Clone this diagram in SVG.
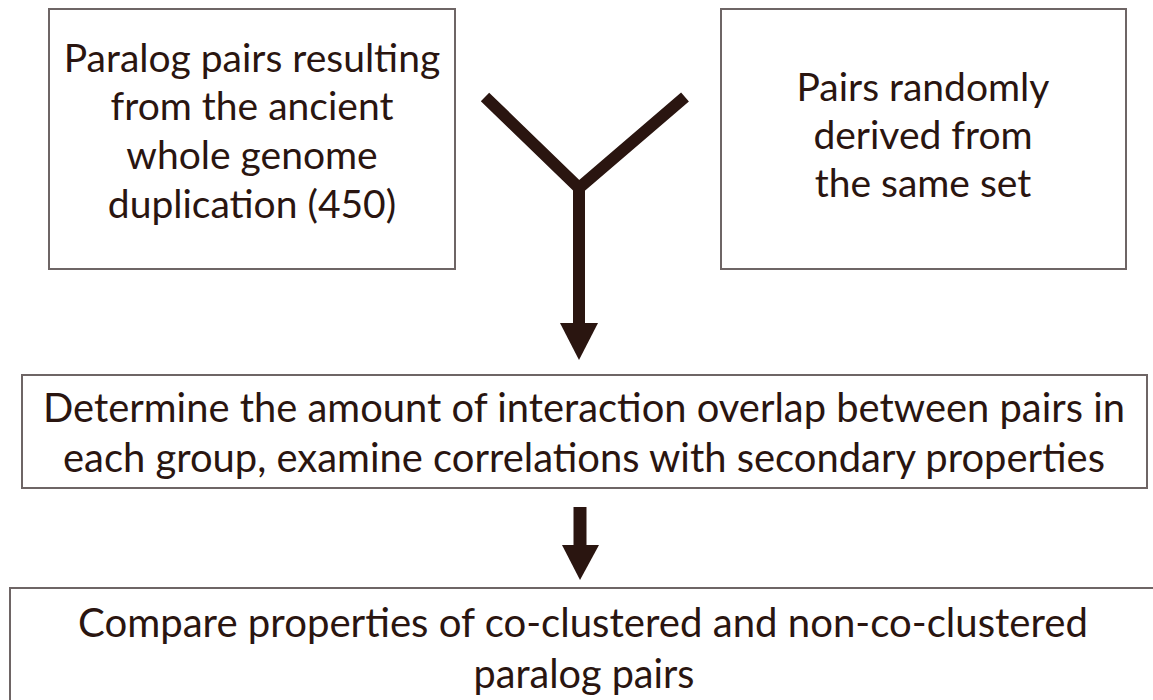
<svg xmlns="http://www.w3.org/2000/svg" width="1153" height="700" viewBox="0 0 1153 700">
<style>
.box{fill:#ffffff;stroke:#6e6565;stroke-width:2}
.t{font-family:Lato,"Open Sans","Liberation Sans",sans-serif;fill:#2a1510;text-anchor:middle}
.t1{font-size:39px}
.t3{font-size:41px}
.conn{stroke:#2a1510;fill:none}
.head{fill:#2a1510}
</style>
<rect width="1153" height="700" fill="#ffffff"/>
<g id="node-paralog">
<rect class="box" x="49" y="9" width="406" height="260"/>
<text class="t t1" x="252" y="72">Paralog pairs resulting</text>
<text class="t t1" x="252" y="120">from the ancient</text>
<text class="t t1" x="252" y="169">whole genome</text>
<text class="t t1" x="252" y="218">duplication (450)</text>
</g>
<g id="node-random">
<rect class="box" x="721" y="9" width="405" height="260"/>
<text class="t t1" x="923" y="101">Pairs randomly</text>
<text class="t t1" x="923" y="149">derived from</text>
<text class="t t1" x="923" y="197">the same set</text>
</g>
<g id="node-determine">
<rect class="box" x="22" y="375" width="1125" height="113"/>
<text class="t t3" x="584" y="422" textLength="1082" lengthAdjust="spacingAndGlyphs">Determine the amount of interaction overlap between pairs in</text>
<text class="t t3" x="584" y="472" textLength="1042" lengthAdjust="spacingAndGlyphs">each group, examine correlations with secondary properties</text>
</g>
<g id="node-compare">
<rect class="box" x="10" y="588" width="1160" height="130"/>
<text class="t t3" x="583" y="637" textLength="1010" lengthAdjust="spacingAndGlyphs">Compare properties of co-clustered and non-co-clustered</text>
<text class="t t3" x="584" y="688" textLength="221" lengthAdjust="spacingAndGlyphs">paralog pairs</text>
</g>
<g id="connectors">
<polyline class="conn" stroke-width="12" points="485,97 579,188 685,97"/>
<line class="conn" stroke-width="12" x1="579" y1="186" x2="579" y2="326"/>
<polygon class="head" points="560,323 598,323 579,360"/>
<line class="conn" stroke-width="13" x1="580" y1="507" x2="580" y2="547"/>
<polygon class="head" points="562,545 599,545 580,580"/>
</g>
</svg>
